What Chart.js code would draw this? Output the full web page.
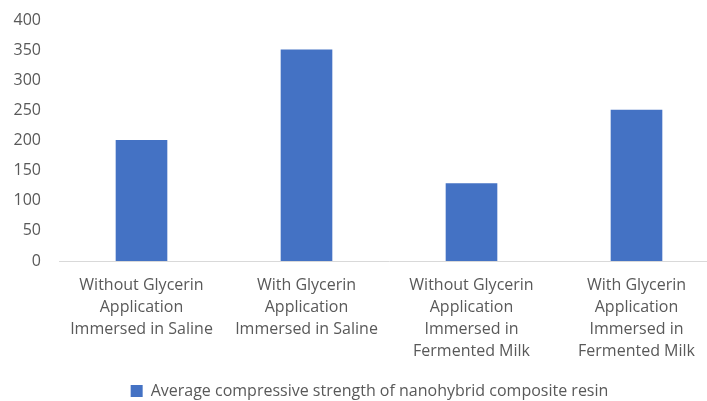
<!DOCTYPE html>
<html>
<head>
<meta charset="utf-8">
<script src="https://cdn.jsdelivr.net/npm/chart.js@4.4.1/dist/chart.umd.min.js"></script>
<style>
  html, body { margin: 0; padding: 0; background: #ffffff; overflow: hidden; }
  #wrap { width: 707px; height: 401px; overflow: hidden; position: relative; }
  #chart { display: block; }
</style>
</head>
<body>
<div id="wrap"><canvas id="chart" width="740" height="409"></canvas></div>
<script>
// Compressive strength per treatment group
const categories = [
  ['Without Glycerin', 'Application', 'Immersed in Saline'],
  ['With Glycerin', 'Application', 'Immersed in Saline'],
  ['Without Glycerin', 'Application', 'Immersed in', 'Fermented Milk'],
  ['With Glycerin', 'Application', 'Immersed in', 'Fermented Milk']
];
const seriesName = 'Average compressive strength of nanohybrid composite resin';
const strengthValues = [201, 351, 129, 251];
const yTicks = [0, 50, 100, 150, 200, 250, 300, 350, 400];

const textColor = '#595959';
const fontFamily = '"Open Sans", "Liberation Sans", sans-serif';

// Centre the legend on the whole canvas rather than the padded layout box
const legendOffset = {
  id: 'legendOffset',
  afterLayout(chart) {
    if (chart.legend) chart.legend.left += 20;
  }
};

new Chart(document.getElementById('chart'), {
  type: 'bar',
  data: {
    labels: categories,
    datasets: [{
      label: seriesName,
      data: strengthValues,
      backgroundColor: '#4472C4',
      borderWidth: 0,
      barPercentage: 0.313,
      categoryPercentage: 1.0
    }]
  },
  plugins: [legendOffset],
  options: {
    responsive: false,
    animation: false,
    layout: { padding: { top: 20, right: 21, left: 0, bottom: 0 } },
    plugins: {
      tooltip: { enabled: false },
      legend: {
        position: 'bottom',
        labels: {
          boxWidth: 12,
          boxHeight: 12,
          padding: 10,
          color: textColor,
          font: { family: fontFamily, size: 16 }
        }
      }
    },
    scales: {
      x: {
        grid: { display: false, drawTicks: false },
        border: { display: true, color: '#d9d9d9', width: 1 },
        ticks: {
          color: textColor,
          padding: 13,
          maxRotation: 0,
          autoSkip: false,
          font: { family: fontFamily, size: 16, lineHeight: '22px' }
        },
        afterFit: (scale) => { scale.height = 112; }
      },
      y: {
        min: 0,
        max: 400,
        afterBuildTicks: (scale) => { scale.ticks = yTicks.map(v => ({ value: v })); },
        grid: { display: false, drawTicks: false },
        border: { display: false },
        ticks: {
          color: textColor,
          padding: 18,
          font: { family: fontFamily, size: 16 }
        },
        afterFit: (scale) => {
          scale.width = 59;
          scale.paddingTop = 0;
          scale.paddingBottom = 0;
        }
      }
    }
  }
});
</script>
</body>
</html>
